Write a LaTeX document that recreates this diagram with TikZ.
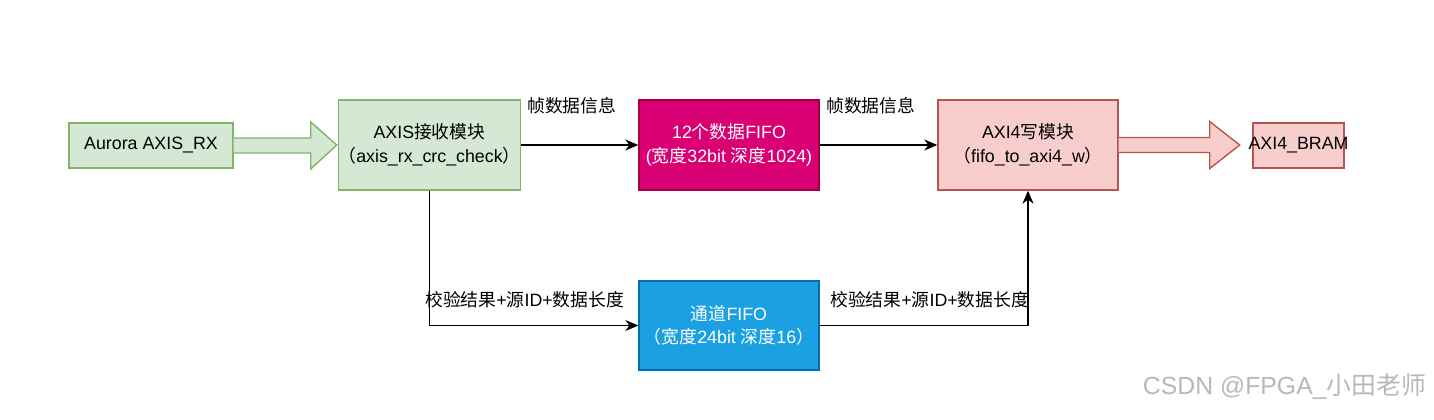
\documentclass[tikz,border=0pt]{standalone}
\usepackage{fontspec}
\setmainfont{Liberation Sans}
\newfontfamily\cjkfont{Noto Sans CJK SC}
\newcommand{\cj}[1]{{\cjkfont #1}}
\usetikzlibrary{arrows.meta,calc}
\definecolor{gfill}{HTML}{D5E8D4}
\definecolor{gline}{HTML}{82B366}
\definecolor{rfill}{HTML}{F8CECC}
\definecolor{rline}{HTML}{B85450}
\definecolor{mfill}{HTML}{D80073}
\definecolor{mline}{HTML}{A50040}
\definecolor{bfill}{HTML}{1BA1E2}
\definecolor{bline}{HTML}{006EAF}
\begin{document}
\begin{tikzpicture}[x=1pt,y=-1pt,
  every node/.style={font=\fontsize{17.8}{23.5}\selectfont, align=center, inner sep=0pt},
  box/.style={draw, line width=1.4pt, rectangle, minimum width=#1},
  greenbox/.style={box=#1, fill=gfill, draw=gline},
  redbox/.style={box=#1, fill=rfill, draw=rline},
  conn/.style={draw=black, line width=1.4pt, -{Stealth[length=13pt,width=11pt,inset=4pt]}},
  lbl/.style={font=\fontsize{17.8}{21}\selectfont},
  fatarrow/.style={line width=1.4pt}
]
\useasboundingbox (0,0) rectangle (1434,420);

\node[greenbox=164pt, minimum height=45pt] (aurora) at (151,145.5) {Aurora AXIS\_RX};
\node[greenbox=181pt, minimum height=90pt] (axis) at (429.5,145) {AXIS\cj{接收模块}\\\cj{（}axis\_rx\_crc\_check\cj{）}};
\node[box=180pt, minimum height=90pt, fill=mfill, draw=mline, text=white] (fifo) at (729,145) {12\cj{个数据}FIFO\\(\cj{宽度}32bit \cj{深度}1024)};
\node[redbox=180pt, minimum height=90pt] (axiw) at (1028,145) {AXI4\cj{写模块}\\\cj{（}fifo\_to\_axi4\_w\cj{）}};
\node[redbox=91pt, minimum height=45pt] (bram) at (1298.5,145.5) {};
\node at (bram.center) {AXI4\_BRAM};
\node[box=180pt, minimum height=89pt, fill=bfill, draw=bline, text=white] (chf) at (729,325.5) {\cj{通道}FIFO\\\cj{（宽度}24bit \cj{深度}16\cj{）}};

% block arrows
\draw[fatarrow, fill=gfill, draw=gline]
  ($(aurora.east)+(0,-7.5)$) -- ++(77,0) -- ++(0,-16) -- ($(axis.west)+(-1,0)$)
  -- ($(aurora.east)+(77,23.5)$) -- ++(0,-16) -- ($(aurora.east)+(0,7.5)$);
\draw[fatarrow, fill=rfill, draw=rline]
  ($(axiw.east)+(0,-7.5)$) -- ++(91,0) -- ++(0,-16) -- ($(axiw.east)+(121,0)$)
  -- ($(axiw.east)+(91,23.5)$) -- ++(0,-16) -- ($(axiw.east)+(0,7.5)$);

% connectors
\draw[conn] (axis.east) -- (fifo.west);
\draw[conn] (fifo.east) -- (axiw.west);
\draw[conn] (axis.south) |- (chf.west);
\draw[conn] (chf.east) -| (axiw.south);

% labels
\node[lbl, anchor=west] (l1) at (527,106) {\cj{帧数据信息}};
\node[lbl, anchor=west] (l2) at (826,106) {\cj{帧数据信息}};
\node[lbl, anchor=west] (l3) at (425,300) {\cj{校验结果}+\cj{源}ID+\cj{数据长度}};
\node[lbl, anchor=west] (l4) at (830,300) {\cj{校验结果}+\cj{源}ID+\cj{数据长度}};

% watermark
\node[font=\fontsize{24.8}{27}\selectfont, text=black!28, anchor=east] (wm) at (1426,387) {CSDN @FPGA\_\cj{小田老师}};
\end{tikzpicture}
\end{document}
